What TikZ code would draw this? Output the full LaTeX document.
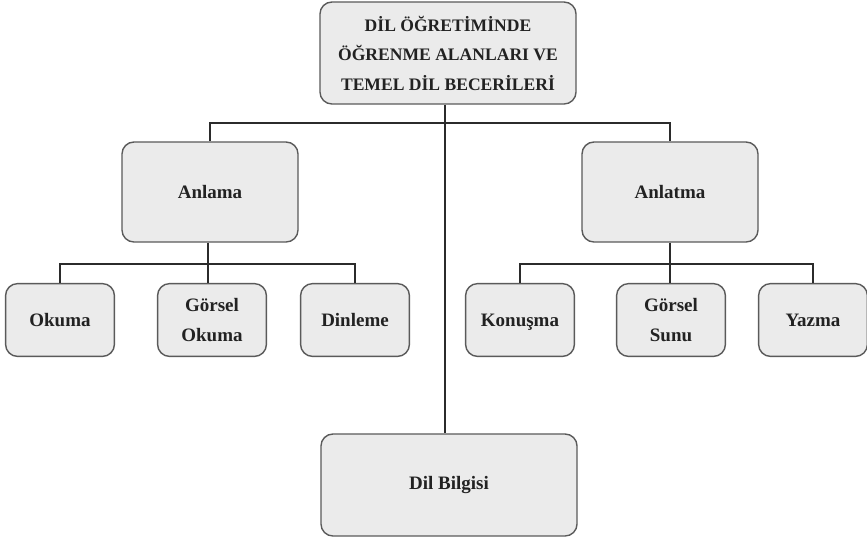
\documentclass[tikz,border=0pt]{standalone}
\usepackage{fontspec}
\setmainfont{Liberation Serif}
\usepackage{tikz}
\usetikzlibrary{calc}
\definecolor{boxfill}{HTML}{EBEBEB}
\definecolor{boxline}{HTML}{5A5A5A}
\definecolor{wire}{HTML}{2B2B2B}
\definecolor{ink}{HTML}{222222}
\tikzset{
 kutu/.style={rectangle,draw=boxline,fill=boxfill,line width=1pt,rounded corners=0.3cm,
  align=center,inner sep=0pt,text=ink,font=\fontsize{13.5}{22}\selectfont\bfseries},
 buyuk/.style={kutu,minimum width=6.4cm,minimum height=2.55cm},
 orta/.style={kutu,minimum width=4.4cm,minimum height=2.5cm},
 kucuk/.style={kutu,minimum width=2.72cm,minimum height=1.82cm},
 baglanti/.style={draw=wire,line width=1.6pt}
}
\begin{document}
\begin{tikzpicture}[x=0.025cm,y=-0.025cm]
\useasboundingbox (0,0) rectangle (867,541);

 \node at (448,53) [buyuk,font=\fontsize{12.5}{21}\selectfont\bfseries] (top) {D\.IL \"O\u{G}RET\.IM\.INDE\\\"O\u{G}RENME ALANLARI VE\\TEMEL D\.IL BECER\.ILER\.I};
 \node at (210,192) [orta] (anlama) {Anlama};
 \node at (670,192) [orta] (anlatma) {Anlatma};
 \node at (60,320) [kucuk] (okuma) {Okuma};
 \node at (212,320) [kucuk] (gokuma) {Görsel\\Okuma};
 \node at (355,320) [kucuk] (dinleme) {Dinleme};
 \node at (520,320) [kucuk] (konusma) {Konu\smash{ş}ma};
 \node at (671,320) [kucuk] (sunu) {Görsel\\Sunu};
 \node at (813,320) [kucuk] (yazma) {Yazma};
 \node at (449,485) [buyuk] (dil) {Dil Bilgisi};

 \coordinate (j0) at (445,123);
 \coordinate (j1) at (208,264);
 \coordinate (j2) at (670,264);

 \draw[baglanti] (j0 |- top.south)--(j0 |- dil.north);
 \draw[baglanti] (j0) -| (anlama.north);
 \draw[baglanti] (j0) -| (anlatma.north);
 \draw[baglanti] (j1 |- anlama.south)--(j1);
 \draw[baglanti] (j1) -| (okuma.north);
 \draw[baglanti] (j1) -| (dinleme.north);
 \draw[baglanti] (j1) -- (j1 |- gokuma.north);
 \draw[baglanti] (j2 |- anlatma.south)--(j2);
 \draw[baglanti] (j2) -| (konusma.north);
 \draw[baglanti] (j2) -| (yazma.north);
 \draw[baglanti] (j2) -- (j2 |- sunu.north);
\end{tikzpicture}
\end{document}
